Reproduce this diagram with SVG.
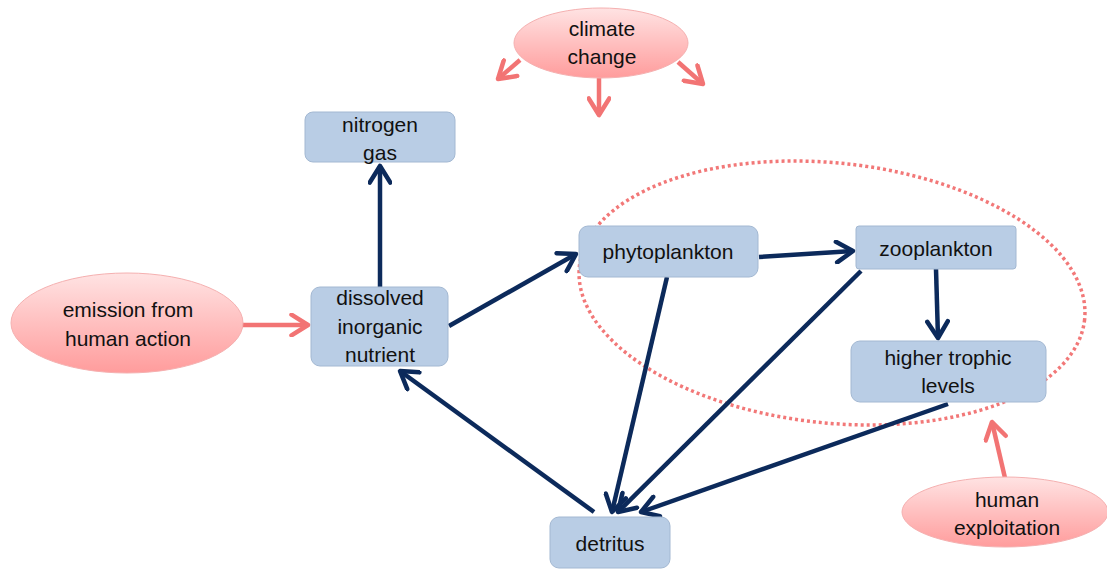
<svg xmlns="http://www.w3.org/2000/svg" width="1107" height="569" viewBox="0 0 1107 569">
<defs>
<style>
.box{fill:#b9cde5;stroke:#a3b8d2;stroke-width:1}
.pink{fill:url(#pg);stroke:#f5b0b0;stroke-width:1}
.t{font-family:"Liberation Sans",Arial,sans-serif;font-size:21px;fill:#111;text-anchor:middle}
.nav{stroke:#0c2a5b;stroke-width:4.5;fill:none;marker-end:url(#an)}
.red{stroke:#f27474;stroke-width:4.5;fill:none;marker-end:url(#ar)}
</style>
<linearGradient id="pg" x1="0" y1="0" x2="0" y2="1">
<stop offset="0" stop-color="#ffe3e3"/>
<stop offset="1" stop-color="#ff9c9c"/>
</linearGradient>
<marker id="an" viewBox="0 0 12 12" refX="10" refY="6" markerWidth="5.5" markerHeight="5.5" orient="auto" markerUnits="strokeWidth">
<path d="M2,1 L10,6 L2,11" fill="none" stroke="#0c2a5b" stroke-width="2.2" stroke-linecap="round" stroke-linejoin="round"/>
</marker>
<marker id="ar" viewBox="0 0 12 12" refX="10" refY="6" markerWidth="5.5" markerHeight="5.5" orient="auto" markerUnits="strokeWidth">
<path d="M2,1 L10,6 L2,11" fill="none" stroke="#f27474" stroke-width="2.2" stroke-linecap="round" stroke-linejoin="round"/>
</marker>
</defs>
<rect width="1107" height="569" fill="#fff"/>

<ellipse cx="832" cy="293" rx="254" ry="130" transform="rotate(6 832 293)" fill="none" stroke="#f27878" stroke-width="3.5" stroke-dasharray="3 3"/>

<g id="connectors">
<line class="nav" x1="380" y1="287" x2="380" y2="166"/>
<line class="nav" x1="449" y1="326" x2="576" y2="254"/>
<line class="nav" x1="759" y1="257" x2="853" y2="251"/>
<line class="nav" x1="936" y1="269" x2="938" y2="338"/>
<line class="nav" x1="667" y1="277" x2="612" y2="512"/>
<line class="nav" x1="861" y1="271" x2="618" y2="512"/>
<line class="nav" x1="948" y1="404" x2="641" y2="512"/>
<line class="nav" x1="594" y1="512" x2="400" y2="371"/>
<line class="red" x1="241" y1="325" x2="308" y2="325"/>
<line class="red" x1="520" y1="60" x2="498" y2="79"/>
<line class="red" x1="599" y1="78" x2="599" y2="115"/>
<line class="red" x1="678" y1="62" x2="703" y2="84"/>
<line class="red" x1="1005" y1="478" x2="992" y2="422"/>
</g>

<g id="climate-change">
<ellipse class="pink" cx="601" cy="43" rx="87" ry="35"/>
<text class="t" x="602" y="36">climate</text>
<text class="t" x="602" y="64">change</text>
</g>
<g id="nitrogen-gas">
<rect class="box" x="305" y="112" width="150" height="50" rx="8"/>
<text class="t" x="380" y="132">nitrogen</text>
<text class="t" x="380" y="160">gas</text>
</g>
<g id="emission">
<ellipse class="pink" cx="127" cy="323" rx="116" ry="50"/>
<text class="t" x="128" y="317">emission from</text>
<text class="t" x="128" y="346">human action</text>
</g>
<g id="dissolved">
<rect class="box" x="311" y="287" width="137" height="79" rx="9"/>
<text class="t" x="380" y="305">dissolved</text>
<text class="t" x="380" y="334">inorganic</text>
<text class="t" x="380" y="362">nutrient</text>
</g>
<g id="phytoplankton">
<rect class="box" x="579" y="226" width="179" height="51" rx="9"/>
<text class="t" x="668" y="259">phytoplankton</text>
</g>
<g id="zooplankton">
<rect class="box" x="856" y="226" width="160" height="43" rx="3"/>
<text class="t" x="936" y="256">zooplankton</text>
</g>
<g id="higher-trophic">
<rect class="box" x="851" y="341" width="195" height="61" rx="9"/>
<text class="t" x="948" y="365">higher trophic</text>
<text class="t" x="948" y="393">levels</text>
</g>
<g id="detritus">
<rect class="box" x="550" y="517" width="120" height="51" rx="9"/>
<text class="t" x="610" y="551">detritus</text>
</g>
<g id="human-exploitation">
<ellipse class="pink" cx="1005" cy="512" rx="103" ry="35"/>
<text class="t" x="1007" y="507">human</text>
<text class="t" x="1007" y="535">exploitation</text>
</g>
</svg>
